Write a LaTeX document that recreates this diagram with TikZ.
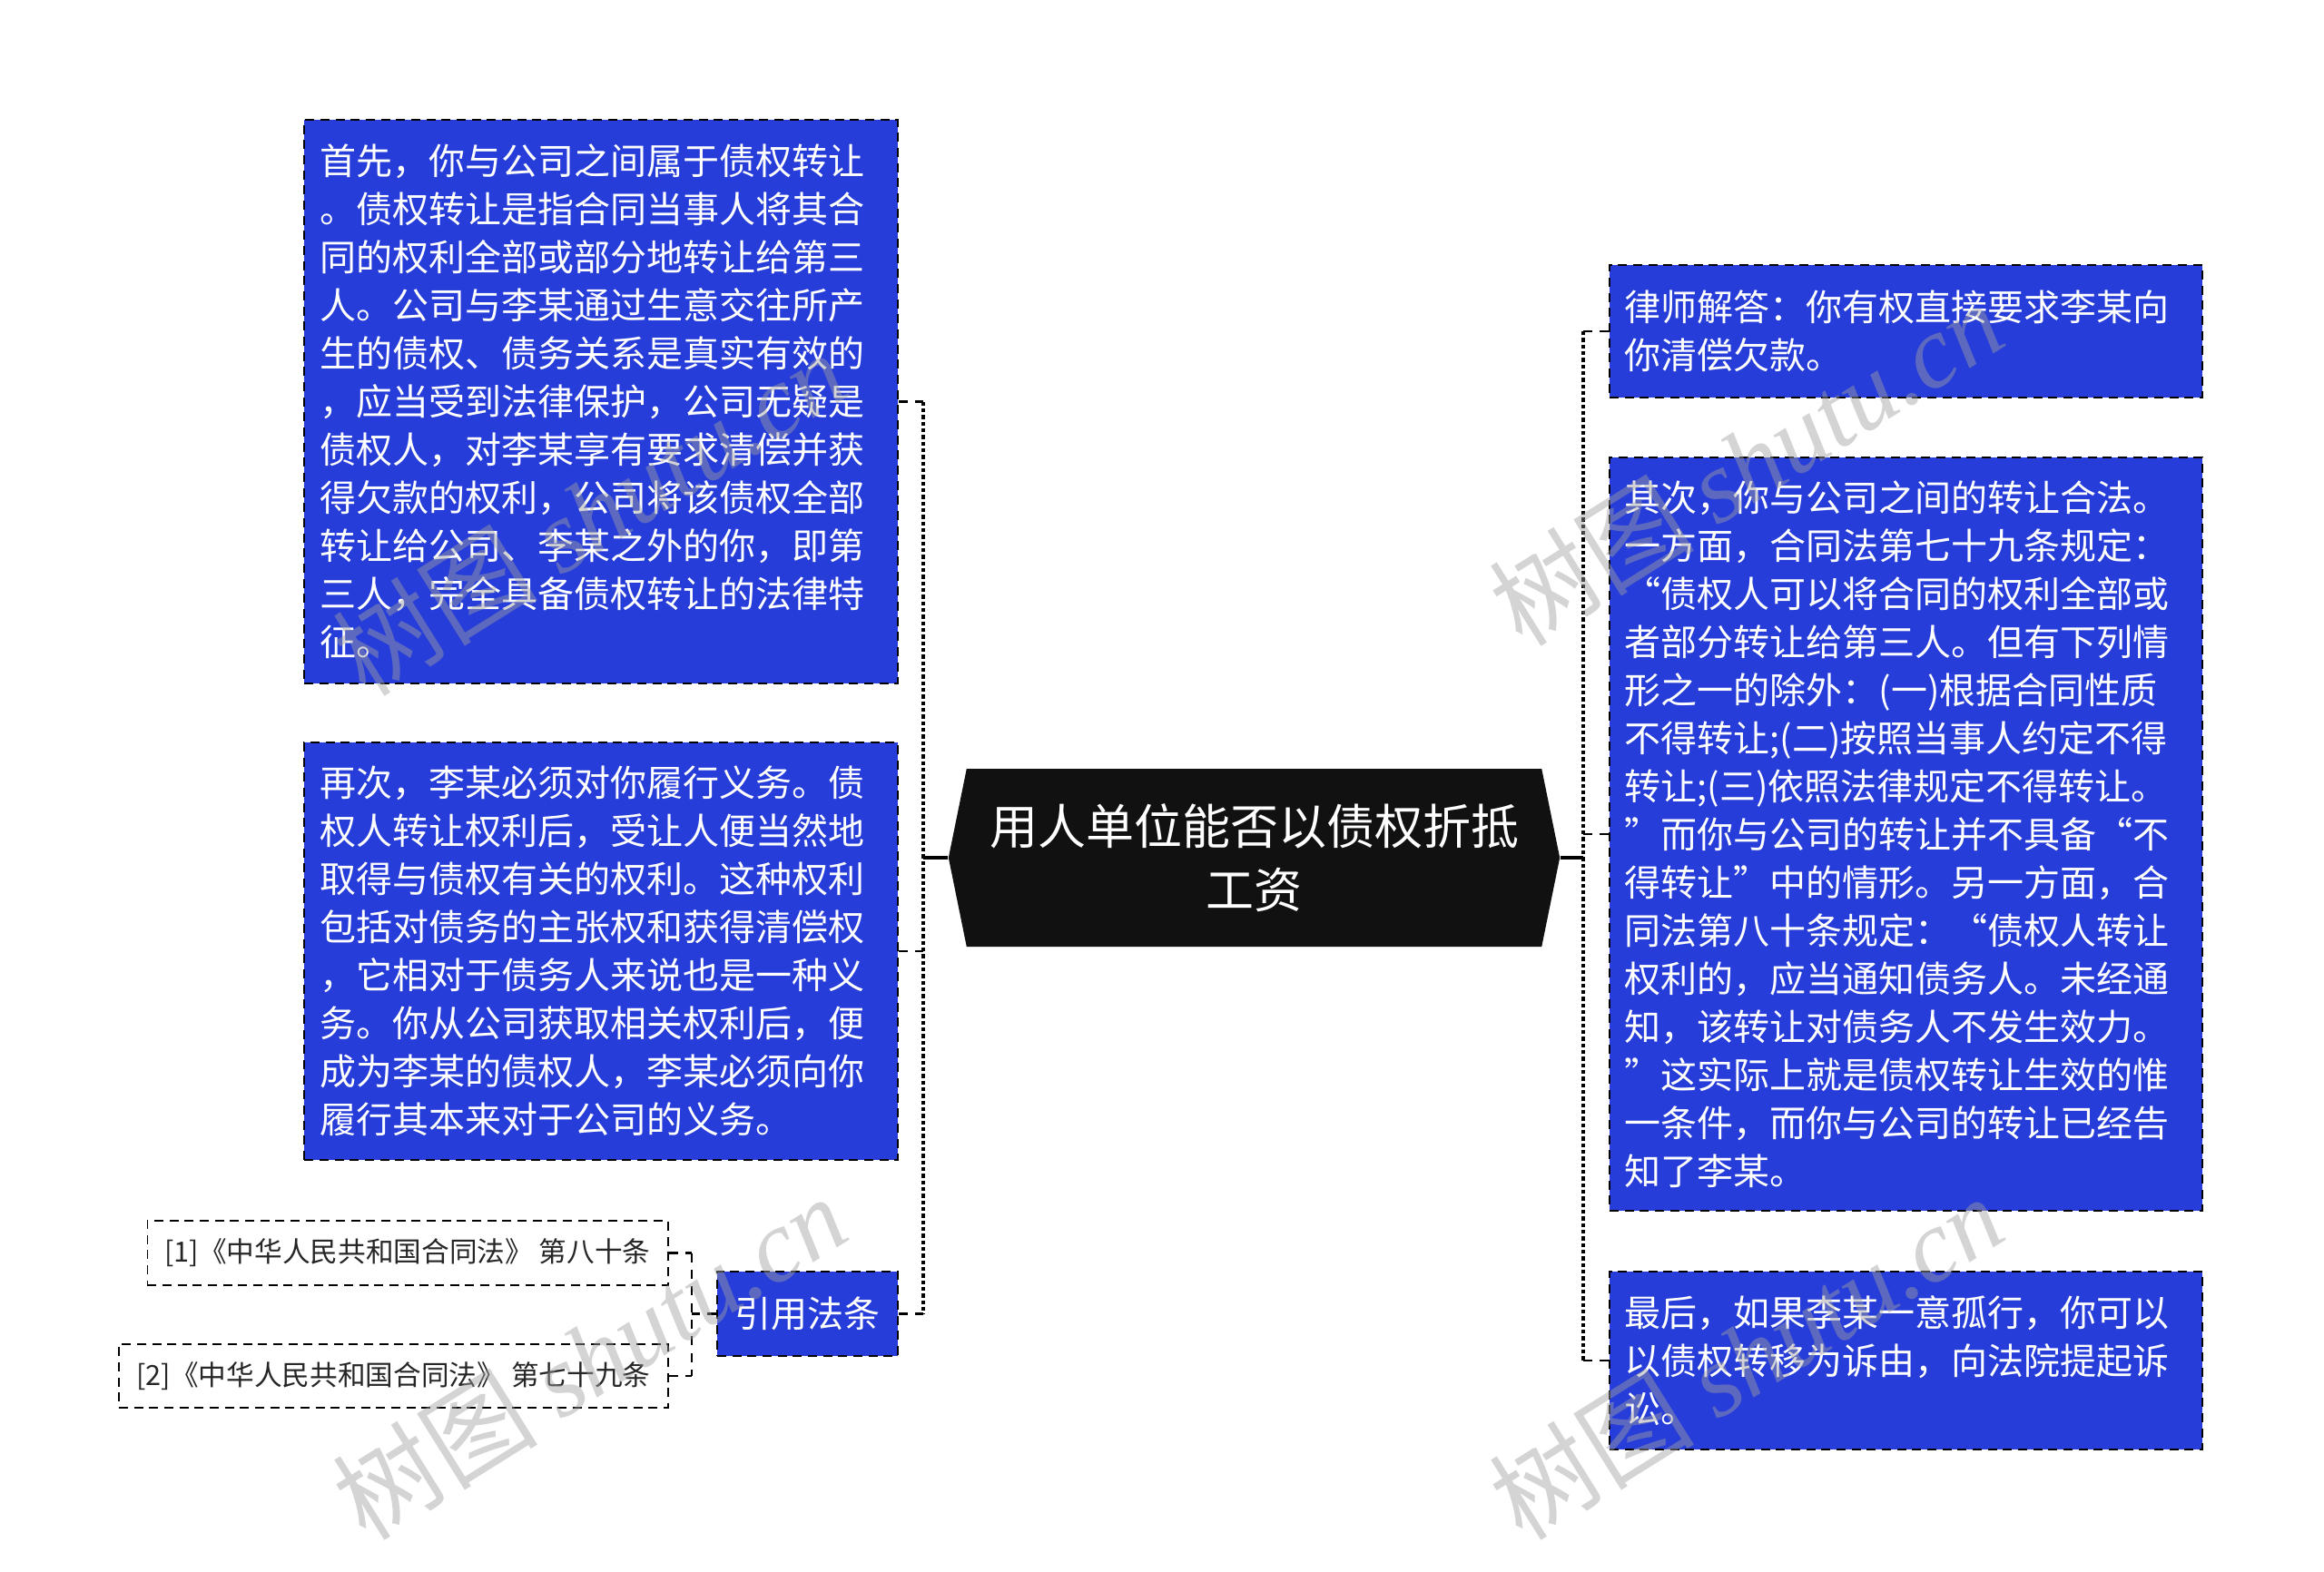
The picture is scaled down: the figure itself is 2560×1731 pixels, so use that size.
\documentclass[tikz,border=0pt]{standalone}
\usepackage{fontspec}
\setmainfont{Noto Sans CJK SC}
\newfontfamily\wmfont{Liberation Serif}
\usetikzlibrary{shapes.symbols}
\definecolor{boxblue}{RGB}{38,61,217}
\definecolor{headblack}{RGB}{17,17,17}
\definecolor{markgray}{RGB}{160,160,160}

\tikzset{
  bluebox/.style={draw=black, dash pattern=on 3pt off 2pt, line width=0.6pt,
    fill=boxblue, text=white, text width=186pt, inner xsep=5pt, inner ysep=0pt,
    align=left, font=\fontsize{12}{15.9}\selectfont},
  lawbox/.style={draw=black, dash pattern=on 3pt off 2pt, line width=0.5pt,
    fill=white, text=black!85, inner sep=0pt, font=\fontsize{9.2}{10}\selectfont},
  headbox/.style={signal, signal to=west and east, signal pointer angle=157,
    fill=headblack, text=white, inner sep=0pt, align=center,
    font=\fontsize{15.9}{21}\selectfont},
  bus/.style={line width=1.3pt, dash pattern=on 1.3pt off 0.9pt},
  stub/.style={line width=0.8pt, dash pattern=on 3pt off 2.5pt},
  link/.style={line width=1.1pt},
  wmark/.style={text=markgray, opacity=0.45, rotate=32, font=\fontsize{34}{34}\selectfont}
}

\begin{document}
\begin{tikzpicture}[x=0.3pt,y=-0.3pt]
\useasboundingbox[fill=white] (0,0) rectangle (2560,1731);

% centre
\node[headbox, minimum width=202pt, minimum height=58.8pt] (head) at (1381.5,945)
  {用人单位能否以债权折抵\\工资};

% left side
\node[bluebox, minimum height=186.3pt] (first) at (662,442.5) {首先，你与公司之间属于债权转让\\
。债权转让是指合同当事人将其合\\
同的权利全部或部分地转让给第三\\
人。公司与李某通过生意交往所产\\
生的债权、债务关系是真实有效的\\
，应当受到法律保护，公司无疑是\\
债权人，对李某享有要求清偿并获\\
得欠款的权利，公司将该债权全部\\
转让给公司、李某之外的你，即第\\
三人，完全具备债权转让的法律特\\
征。};
\node[bluebox, minimum height=138pt] (again) at (662,1048) {再次，李某必须对你履行义务。债\\
权人转让权利后，受让人便当然地\\
取得与债权有关的权利。这种权利\\
包括对债务的主张权和获得清偿权\\
，它相对于债务人来说也是一种义\\
务。你从公司获取相关权利后，便\\
成为李某的债权人，李某必须向你\\
履行其本来对于公司的义务。};
\node[bluebox, text width=, align=center, inner xsep=0pt, minimum width=59.7pt,
  minimum height=27.9pt] (cite) at (889.5,1447.5) {引用法条};
\node[lawbox, minimum width=172pt, minimum height=21.3pt] (lawa) at (449,1380.5)
  {[1]《中华人民共和国合同法》 第八十条};
\node[lawbox, minimum width=181.5pt, minimum height=21pt] (lawb) at (433.5,1516)
  {[2]《中华人民共和国合同法》 第七十九条};

% right side
\node[bluebox, minimum height=43.8pt] (reply) at (2099.5,365) {律师解答：你有权直接要求李某向\\
你清偿欠款。};
\node[bluebox, minimum height=249pt] (second) at (2099.5,919) {其次，你与公司之间的转让合法。\\
一方面，合同法第七十九条规定：\\
“债权人可以将合同的权利全部或\\
者部分转让给第三人。但有下列情\\
形之一的除外：(一)根据合同性质\\
不得转让;(二)按照当事人约定不得\\
转让;(三)依照法律规定不得转让。\\
”而你与公司的转让并不具备“不\\
得转让”中的情形。另一方面，合\\
同法第八十条规定：“债权人转让\\
权利的，应当通知债务人。未经通\\
知，该转让对债务人不发生效力。\\
”这实际上就是债权转让生效的惟\\
一条件，而你与公司的转让已经告\\
知了李某。};
\node[bluebox, minimum height=58.8pt] (last) at (2099.5,1499) {最后，如果李某一意孤行，你可以\\
以债权转移为诉由，向法院提起诉\\
讼。};

% connectors
\coordinate (lbus) at (1017,945);
\coordinate (rbus) at (1744,945);
\coordinate (cbus) at (762,1447.5);
\draw[link] (head.west) -- (lbus);
\draw[link] (head.east) -- (rbus);
\draw[bus] (first.east -| lbus) -- (cite.east -| lbus);
\draw[stub] (first.east) -- (first.east -| lbus);
\draw[stub] (again.east) -- (again.east -| lbus);
\draw[stub] (cite.east) -- (cite.east -| lbus);
\draw[bus] (reply.west -| rbus) -- (last.west -| rbus);
\draw[stub] (reply.west) -- (reply.west -| rbus);
\draw[stub] (second.west) -- (second.west -| rbus);
\draw[stub] (last.west) -- (last.west -| rbus);
\draw[stub] (cite.west) -- (cbus);
\draw[stub] (lawa.east -| cbus) -- (lawb.east -| cbus);
\draw[stub] (lawa.east) -- (lawa.east -| cbus);
\draw[stub] (lawb.east) -- (lawb.east -| cbus);

% watermarks
\foreach \wx/\wy in {649/565, 649/1495, 1923/510, 1923/1495}
  \node[wmark] at (\wx,\wy) {树图 {\wmfont\itshape shutu.cn}};
\end{tikzpicture}
\end{document}
